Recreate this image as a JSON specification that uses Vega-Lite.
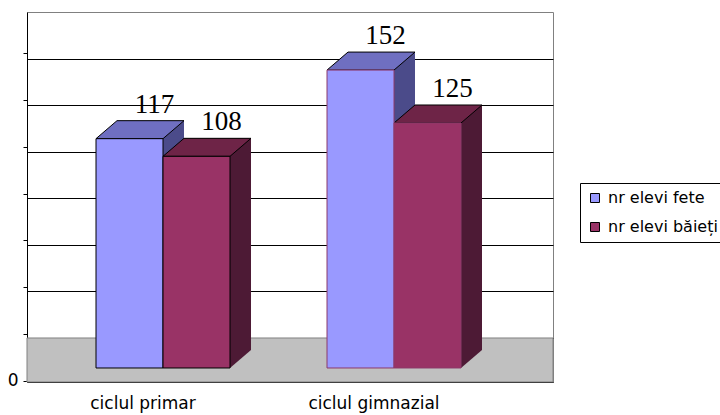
{
  "$schema": "https://vega.github.io/schema/vega-lite/v6.json",
  "width": 526,
  "height": 370,
  "autosize": "none",
  "padding": {"left": 27, "top": 12, "right": 167, "bottom": 33},
  "background": "white",
  "config": {"view": {"stroke": "#808080", "strokeWidth": 1}},
  "data": {"values": [
    {"ciclu": "ciclul primar", "serie": "nr elevi fete", "nr": 117},
    {"ciclu": "ciclul primar", "serie": "nr elevi băieți", "nr": 108},
    {"ciclu": "ciclul gimnazial", "serie": "nr elevi fete", "nr": 152},
    {"ciclu": "ciclul gimnazial", "serie": "nr elevi băieți", "nr": 125}
  ]},
  "resolve": {"scale": {"y": "independent", "xOffset": "independent"}, "axis": {"y": "independent"}},
  "layer": [
    {
      "data": {"values": [{}]},
      "mark": {"type": "rect", "fill": "#C0C0C0", "stroke": "#808080", "strokeWidth": 1},
      "encoding": {
        "y": {"datum": 0, "type": "quantitative", "scale": {"domain": [-23.62, 175], "nice": false, "zero": false},
          "axis": {"orient": "right", "grid": true, "gridColor": "#000000", "gridWidth": 1, "values": [0, 25, 50, 75, 100, 125, 150], "labels": false, "ticks": false, "domain": false, "title": null}},
        "y2": {"value": "height"}
      }
    },
    {
      "mark": {"type": "bar", "strokeWidth": 0},
      "encoding": {
        "x": {"field": "ciclu", "type": "nominal", "sort": ["ciclul primar", "ciclul gimnazial"], "scale": {"paddingInner": 0.4199, "paddingOuter": 0.3485, "align": 0.4286},
          "axis": {"title": null, "orient": "bottom", "ticks": false, "tickSize": 0, "domainColor": "#000000", "domainWidth": 1, "labelAngle": 0, "labelOffset": -20, "labelPadding": 13, "labelFont": "DejaVu Sans", "labelFontSize": 17, "labelColor": "#000000"}},
        "xOffset": {"field": "serie", "type": "nominal", "sort": ["nr elevi fete", "nr elevi băieți"], "scale": {"range": [21, 155], "paddingInner": 0, "paddingOuter": 0}},
        "y": {"field": "nr", "type": "quantitative", "scale": {"domain": [-16.33, 172.45], "nice": false, "zero": false}, "axis": null},
        "y2": {"datum": 0},
        "fill": {"condition": {"test": "datum.serie === 'nr elevi fete'", "value": "#4B4B8A"}, "value": "#4D1A35"}
      }
    },
    {
      "mark": {"type": "point", "shape": "M33.5,0L33.5,-18L54.5,-18Z", "size": 4, "filled": true, "opacity": 1, "strokeWidth": 0},
      "encoding": {
        "x": {"field": "ciclu", "type": "nominal", "sort": ["ciclul primar", "ciclul gimnazial"], "scale": {"paddingInner": 0.4199, "paddingOuter": 0.3485, "align": 0.4286},
          "axis": {"title": null, "orient": "bottom", "ticks": false, "tickSize": 0, "domainColor": "#000000", "domainWidth": 1, "labelAngle": 0, "labelOffset": -20, "labelPadding": 13, "labelFont": "DejaVu Sans", "labelFontSize": 17, "labelColor": "#000000"}},
        "xOffset": {"field": "serie", "type": "nominal", "sort": ["nr elevi fete", "nr elevi băieți"], "scale": {"type": "point", "padding": 0.5}},
        "y": {"datum": 0, "type": "quantitative", "scale": {"domain": [-7.143, 181.63], "nice": false, "zero": false}, "axis": null},
        "fill": {"condition": {"test": "datum.serie === 'nr elevi fete'", "value": "#4B4B8A"}, "value": "#4D1A35"}
      }
    },
    {
      "mark": {"type": "point", "shape": "M-33.5,0L33.5,0L54.5,-18L-12.5,-18Z", "size": 4, "filled": true, "opacity": 1, "stroke": "#000000", "strokeWidth": 1},
      "encoding": {
        "x": {"field": "ciclu", "type": "nominal", "sort": ["ciclul primar", "ciclul gimnazial"], "scale": {"paddingInner": 0.4199, "paddingOuter": 0.3485, "align": 0.4286},
          "axis": {"title": null, "orient": "bottom", "ticks": false, "tickSize": 0, "domainColor": "#000000", "domainWidth": 1, "labelAngle": 0, "labelOffset": -20, "labelPadding": 13, "labelFont": "DejaVu Sans", "labelFontSize": 17, "labelColor": "#000000"}},
        "xOffset": {"field": "serie", "type": "nominal", "sort": ["nr elevi fete", "nr elevi băieți"], "scale": {"type": "point", "padding": 0.5}},
        "y": {"field": "nr", "type": "quantitative", "scale": {"domain": [-7.143, 181.63], "nice": false, "zero": false}, "axis": null},
        "fill": {"condition": {"test": "datum.serie === 'nr elevi fete'", "value": "#6F6FC1"}, "value": "#6E2447"}
      }
    },
    {
      "mark": {"type": "bar", "strokeWidth": 1},
      "encoding": {
        "x": {"field": "ciclu", "type": "nominal", "sort": ["ciclul primar", "ciclul gimnazial"], "scale": {"paddingInner": 0.4199, "paddingOuter": 0.3485, "align": 0.4286},
          "axis": {"title": null, "orient": "bottom", "ticks": false, "tickSize": 0, "domainColor": "#000000", "domainWidth": 1, "labelAngle": 0, "labelOffset": -20, "labelPadding": 13, "labelFont": "DejaVu Sans", "labelFontSize": 17, "labelColor": "#000000"}},
        "xOffset": {"field": "serie", "type": "nominal", "sort": ["nr elevi fete", "nr elevi băieți"], "scale": {"paddingInner": 0, "paddingOuter": 0}},
        "y": {"field": "nr", "type": "quantitative", "scale": {"domain": [-7.143, 181.63], "nice": false, "zero": false}, "axis": null},
        "y2": {"datum": 0},
        "color": {"field": "serie", "type": "nominal", "sort": ["nr elevi fete", "nr elevi băieți"],
          "scale": {"domain": ["nr elevi fete", "nr elevi băieți"], "range": ["#9999FF", "#993366"]},
          "legend": {"title": null, "orient": "none", "legendX": 553, "legendY": 171, "strokeColor": "#000000", "fillColor": "#FFFFFF", "padding": 7, "symbolType": "square", "symbolSize": 81, "symbolStrokeColor": "#000000", "symbolStrokeWidth": 1, "labelFont": "DejaVu Sans", "labelFontSize": 16, "labelColor": "#000000", "labelOffset": 5, "rowPadding": 13}},
        "stroke": {"condition": {"test": "datum.ciclu === 'ciclul gimnazial'", "value": "#8C3A6A"}, "value": "#000000"}
      }
    },
    {
      "mark": {"type": "text", "font": "Liberation Serif", "fontSize": 27, "dx": 25, "dy": -26, "baseline": "alphabetic", "align": "center", "color": "#000000"},
      "encoding": {
        "x": {"field": "ciclu", "type": "nominal", "sort": ["ciclul primar", "ciclul gimnazial"], "scale": {"paddingInner": 0.4199, "paddingOuter": 0.3485, "align": 0.4286},
          "axis": {"title": null, "orient": "bottom", "ticks": false, "tickSize": 0, "domainColor": "#000000", "domainWidth": 1, "labelAngle": 0, "labelOffset": -20, "labelPadding": 13, "labelFont": "DejaVu Sans", "labelFontSize": 17, "labelColor": "#000000"}},
        "xOffset": {"field": "serie", "type": "nominal", "sort": ["nr elevi fete", "nr elevi băieți"], "scale": {"type": "point", "padding": 0.5}},
        "y": {"field": "nr", "type": "quantitative", "scale": {"domain": [-7.143, 181.63], "nice": false, "zero": false}, "axis": null},
        "text": {"field": "nr", "type": "quantitative"}
      }
    },
    {
      "data": {"values": [{}]},
      "mark": {"type": "rule", "opacity": 0},
      "encoding": {
        "y": {"datum": 0, "type": "quantitative", "scale": {"domain": [-0.534, 196.88], "nice": false, "zero": false},
          "axis": {"orient": "left", "title": null, "grid": false, "values": [0, 25, 50, 75, 100, 125, 150, 175], "labelExpr": "datum.value === 0 ? '0' : ''", "tickSize": 4, "tickColor": "#000000", "domainColor": "#000000", "labelFont": "DejaVu Sans", "labelFontSize": 17, "labelColor": "#000000", "labelPadding": 5}}
      }
    }
  ]
}
